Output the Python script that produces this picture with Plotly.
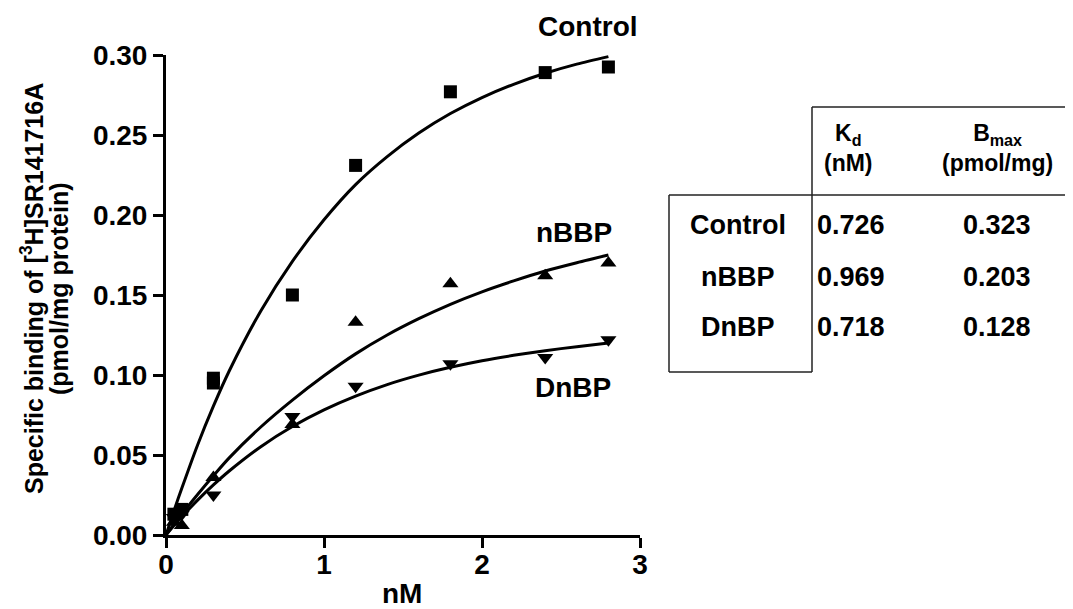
import plotly.graph_objects as go

# ---------------- data ----------------
conc = [0.05, 0.1, 0.3, 0.3, 0.8, 1.2, 1.8, 2.4, 2.8]
control = [0.013, 0.016, 0.095, 0.098, 0.150, 0.231, 0.277, 0.289, 0.2925]
conc_b = [0.05, 0.1, 0.3, 0.8, 1.2, 1.8, 2.4, 2.8]
nbbp = [0.008, 0.006, 0.036, 0.069, 0.133, 0.157, 0.162, 0.170]
dnbp = [0.011, 0.013, 0.025, 0.074, 0.093, 0.107, 0.111, 0.122]

fit_x = [0, 0.05, 0.1, 0.2, 0.3, 0.4, 0.6, 0.8, 1.0, 1.2, 1.4, 1.6, 1.8, 2.0, 2.2, 2.4, 2.6, 2.8]
fit_control = [0, 0.0150, 0.0292, 0.0563, 0.0805, 0.1025, 0.140, 0.171, 0.197, 0.219, 0.2365, 0.2512,
               0.2634, 0.2734, 0.2817, 0.2886, 0.2943, 0.299]
fit_nbbp = [0, 0.0066, 0.013, 0.0253, 0.037, 0.0482, 0.0675, 0.0843, 0.0995, 0.1132, 0.125, 0.1352,
            0.1442, 0.1520, 0.1588, 0.1650, 0.1702, 0.175]
fit_dnbp = [0, 0.0059, 0.0114, 0.0218, 0.0313, 0.040, 0.0552, 0.0678, 0.0782, 0.0868, 0.094,
            0.0999, 0.1048, 0.1089, 0.1123, 0.1152, 0.1177, 0.120]

x_ticks = [0, 1, 2, 3]
y_ticks = [0.00, 0.05, 0.10, 0.15, 0.20, 0.25, 0.30]

table_rows = ["Control", "nBBP", "DnBP"]
table_kd = ["0.726", "0.969", "0.718"]
table_bmax = ["0.323", "0.203", "0.128"]

# ---------------- figure ----------------
OFF = 8  # page body margin
W, H = 1073 - OFF, 609 - OFF
PL, PT, PW, PH = 166, 55, 474, 480   # plot area in screen pixels
L, T = PL - OFF, PT - OFF
R = W - L - PW
B = H - T - PH


def px(p):
    return (p - PL) / PW


def py(q):
    return (PT + PH - q) / PH


FONT = "Liberation Sans, Arial, Helvetica, sans-serif"

fig = go.Figure()
line_style = dict(color="black", width=3, shape="spline", smoothing=0.8)
for fy in (fit_control, fit_nbbp, fit_dnbp):
    fig.add_trace(go.Scatter(x=fit_x, y=fy, mode="lines", line=line_style, hoverinfo="skip"))
fig.add_trace(go.Scatter(x=conc, y=control, mode="markers", cliponaxis=False,
                         marker=dict(symbol="square", size=13, color="black")))
fig.add_trace(go.Scatter(x=conc_b, y=nbbp, mode="markers", cliponaxis=False,
                         marker=dict(symbol="triangle-up", size=14, color="black")))
fig.add_trace(go.Scatter(x=conc_b, y=dnbp, mode="markers", cliponaxis=False,
                         marker=dict(symbol="triangle-down", size=14, color="black")))

axis_common = dict(
    showline=True, linecolor="black", linewidth=3, ticks="outside", ticklen=10,
    tickwidth=3, tickcolor="black", showgrid=False, zeroline=False,
    tickfont=dict(family=FONT, size=28, color="black", weight="bold"),
)
fig.update_xaxes(range=[0, 3], tickvals=x_ticks, ticktext=[str(v) for v in x_ticks],
                 ticklabelstandoff=-8, **axis_common)
fig.update_yaxes(range=[0, 0.30], tickvals=y_ticks, ticktext=[f"{v:.2f}" for v in y_ticks],
                 **axis_common)

ann = []


def add_text(text, xp, yp, size, angle=0):
    ann.append(dict(text=text, x=px(xp), y=py(yp), xref="paper", yref="paper",
                    showarrow=False, xanchor="center", yanchor="middle", textangle=angle,
                    font=dict(family=FONT, size=size, color="black", weight="bold")))


# axis titles
add_text("nM", 402, 593, 28)
add_text("Specific binding of [<sup>3</sup>H]SR141716A", 32, 289, 25, angle=-90)
add_text("(pmol/mg protein)", 59, 289, 25, angle=-90)

# curve labels
add_text("Control", 588, 27, 28)
add_text("nBBP", 574, 232, 28)
add_text("DnBP", 573, 387, 28)

# table
add_text("K<sub>d</sub><br>(nM)", 848, 148, 23)
add_text("B<sub>max</sub><br>(pmol/mg)", 997, 148, 23)
row_y = [225, 277, 327]
for name, kd, bm, yy in zip(table_rows, table_kd, table_bmax, row_y):
    add_text(name, 738, yy, 27)
    add_text(kd, 851, yy, 27)
    add_text(bm, 997, yy, 27)

shapes = []


def add_line(x0, y0, x1, y1):
    shapes.append(dict(type="line", xref="paper", yref="paper",
                       x0=px(x0), y0=py(y0), x1=px(x1), y1=py(y1),
                       line=dict(color="#222", width=1.5)))


add_line(812, 107, 1073, 107)
add_line(812, 107, 812, 372)
add_line(669, 195, 1073, 195)
add_line(669, 195, 669, 372)
add_line(669, 372, 812, 372)

fig.update_layout(
    width=W, height=H, autosize=False,
    margin=dict(l=L, r=R, t=T, b=B),
    paper_bgcolor="white", plot_bgcolor="white",
    showlegend=False, annotations=ann, shapes=shapes,
    font=dict(family=FONT, color="black"),
)

fig.write_html("out.html")
